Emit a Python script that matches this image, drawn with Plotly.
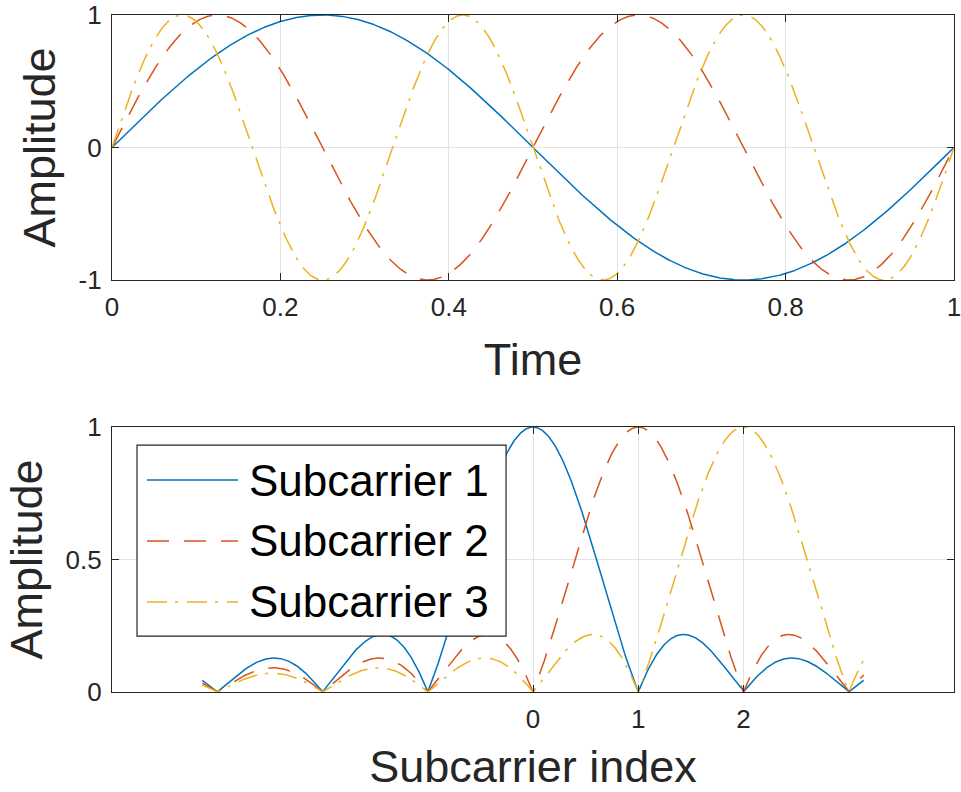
import numpy as np
import plotly.graph_objects as go

# ---- data ----
series_names = ["Subcarrier 1", "Subcarrier 2", "Subcarrier 3"]
cycles_per_unit = [1, 2, 3]          # subcarrier frequencies (cycles over the time window)
subcarrier_idx = [0, 1, 2]           # spectral centre of each subcarrier
time_range = [0.0, 1.0]
freq_range = [-np.pi, np.pi]

top_xticks = [0, 0.2, 0.4, 0.6, 0.8, 1]
top_xticklabels = ["0", "0.2", "0.4", "0.6", "0.8", "1"]
top_yticks = [-1, 0, 1]
top_yticklabels = ["-1", "0", "1"]
bot_xticks = [0, 1, 2]
bot_xticklabels = ["0", "1", "2"]
bot_yticks = [0, 0.5, 1]
bot_yticklabels = ["0", "0.5", "1"]

# ---- styles ----
colors = ["#0072BD", "#D95319", "#EDB120"]
dashes = ["solid", "22px,15px", "20px,8px,3px,9px"]
FONT = "Liberation Sans, Arial, Helvetica, sans-serif"
AX = "#262626"
GRID = "#e3e3e3"

t = np.linspace(time_range[0], time_range[1], 1001)
f = np.linspace(freq_range[0], freq_range[1], 1001)

fig = go.Figure()
for name, k, c, d in zip(series_names, cycles_per_unit, colors, dashes):
    fig.add_trace(go.Scatter(x=t, y=np.sin(2 * np.pi * k * t), mode="lines", name=name,
                             line=dict(color=c, width=1.5, dash=d), xaxis="x", yaxis="y",
                             showlegend=False))
for name, m, c, d in zip(series_names, subcarrier_idx, colors, dashes):
    fig.add_trace(go.Scatter(x=f, y=np.abs(np.sinc(f - m)), mode="lines", name=name,
                             line=dict(color=c, width=1.5, dash=d), xaxis="x2", yaxis="y2",
                             showlegend=False))

axis_common = dict(showline=True, linecolor=AX, linewidth=1.3, mirror="ticks", ticks="inside",
                   ticklen=7, tickcolor=AX, showgrid=True, gridcolor=GRID, gridwidth=1,
                   zeroline=False, automargin=False, ticklabeloverflow="allow",
                   tickfont=dict(family=FONT, size=26, color=AX))
title_font = dict(family=FONT, size=45, color=AX)

fig.update_layout(
    width=961, height=792,
    margin=dict(l=112, r=7, t=15, b=100),
    paper_bgcolor="white", plot_bgcolor="white",
    showlegend=False,
    xaxis=dict(domain=[0, 1], anchor="y", range=time_range, tickvals=top_xticks,
               ticktext=top_xticklabels, title=dict(text="Time", font=title_font, standoff=22),
               ticklabelstandoff=4, **axis_common),
    yaxis=dict(domain=[0.6086, 1], anchor="x", range=[-1, 1], tickvals=top_yticks,
               ticktext=top_yticklabels, title=dict(text="Amplitude", font=title_font, standoff=8),
               ticklabelstandoff=4, **axis_common),
    xaxis2=dict(domain=[0, 1], anchor="y2", range=[-4, 4], tickvals=bot_xticks,
                ticktext=bot_xticklabels, title=dict(text="Subcarrier index", font=title_font, standoff=22),
                ticklabelstandoff=4, **axis_common),
    yaxis2=dict(domain=[0, 0.3914], anchor="x2", range=[0, 1], tickvals=bot_yticks,
                ticktext=bot_yticklabels, title=dict(text="Amplitude", font=title_font, standoff=8),
                ticklabelstandoff=4, **axis_common),
)

# ---- legend drawn in the bottom axes (long sample lines like the original) ----
fig.add_shape(type="rect", xref="x2 domain", yref="y2 domain", x0=0.0297, x1=0.468,
              y0=0.211, y1=0.932, line=dict(color=AX, width=1.2), fillcolor="white", layer="above")
rows = [0.800, 0.570, 0.340]
for name, c, d, yy in zip(series_names, colors, dashes, rows):
    fig.add_shape(type="line", xref="x2 domain", yref="y2 domain", x0=0.0416, x1=0.1496,
                  y0=yy, y1=yy, line=dict(color=c, width=1.5, dash=d), layer="above")
    fig.add_annotation(xref="x2 domain", yref="y2 domain", x=0.1603, y=yy, text=name,
                       showarrow=False, xanchor="left", yanchor="middle",
                       font=dict(family=FONT, size=44, color="black"))

fig.write_html("out.html",
               config={"displayModeBar": False, "responsive": False},
               post_script="document.body.style.margin='0';document.body.style.padding='0';"
                           "document.documentElement.style.overflow='hidden';"
                           "document.body.style.overflow='hidden';")
